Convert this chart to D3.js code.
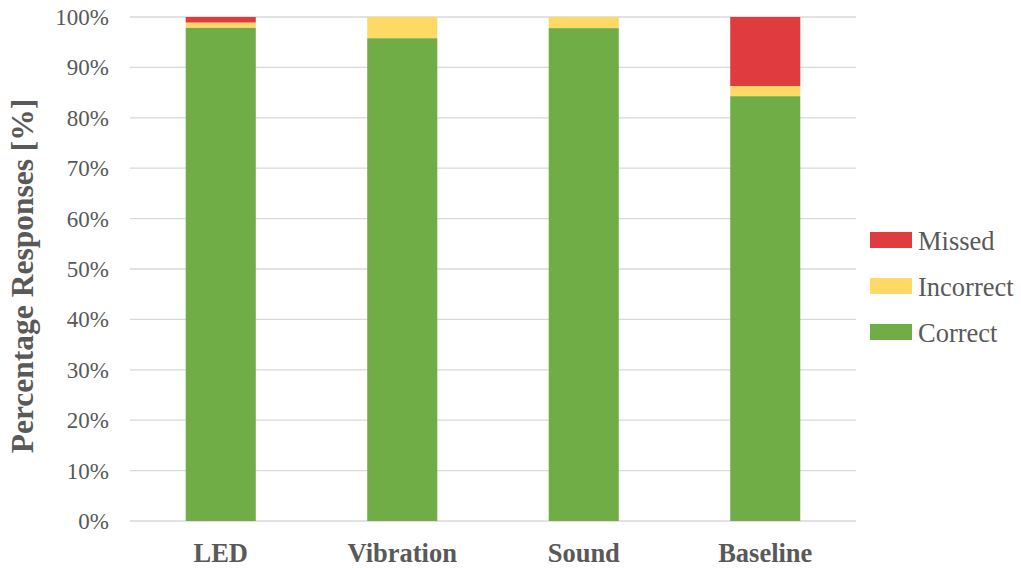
<!DOCTYPE html>
<html>
<head>
<meta charset="utf-8">
<script src="https://cdn.jsdelivr.net/npm/d3@7"></script>
<style>
  html, body { margin: 0; padding: 0; background: #fff; }
  svg { display: block; }
</style>
</head>
<body>
<svg id="chart" width="1021" height="568"></svg>
<script>
// Response outcomes per feedback condition (percent of responses)
const categories = ["LED", "Vibration", "Sound", "Baseline"];
const correct   = [97.9, 95.8, 97.8, 84.3];
const incorrect = [1.0, 4.2, 2.2, 2.0];
const missed    = [1.1, 0.0, 0.0, 13.7];
const seriesNames = ["Correct", "Incorrect", "Missed"];
const seriesColors = ["#70AD47", "#FFD966", "#E03B3F"];
const yTicks = [0, 10, 20, 30, 40, 50, 60, 70, 80, 90, 100];

(function draw() {
  const serif = "'Liberation Serif', 'Times New Roman', serif";
  const textColor = "#595959";

  const rows = categories.map((c, i) => ({
    cat: c, Correct: correct[i], Incorrect: incorrect[i], Missed: missed[i]
  }));
  const stacked = d3.stack().keys(seriesNames)(rows);

  const svg = d3.select("#chart");
  const plotLeft = 130, plotRight = 856, plotTop = 17, plotBottom = 521;

  const x = d3.scaleBand().domain(categories).range([plotLeft, plotRight])
    .paddingInner(0.614).paddingOuter(0.307);
  const y = d3.scaleLinear().domain([0, 100]).range([plotBottom, plotTop]);
  const color = d3.scaleOrdinal().domain(seriesNames).range(seriesColors);

  // Horizontal gridlines
  svg.append("g")
    .selectAll("line")
    .data(yTicks)
    .join("line")
    .attr("x1", plotLeft).attr("x2", plotRight)
    .attr("y1", d => y(d)).attr("y2", d => y(d))
    .attr("stroke", "#d9d9d9").attr("stroke-width", 1.3);

  // Y axis tick labels
  const yAxis = d3.axisLeft(y).tickValues(yTicks).tickFormat(d => d + "%").tickSize(0).tickPadding(0);
  const yg = svg.append("g").attr("transform", "translate(109,0)").call(yAxis);
  yg.select(".domain").remove();
  yg.selectAll("text")
    .style("font-family", serif)
    .style("font-size", "23px")
    .style("fill", textColor)
    .attr("dy", "0.33em");

  // Stacked bars
  svg.append("g")
    .selectAll("g")
    .data(stacked)
    .join("g")
    .attr("fill", d => color(d.key))
    .selectAll("rect")
    .data(d => d)
    .join("rect")
    .attr("x", d => x(d.data.cat))
    .attr("width", x.bandwidth())
    .attr("y", d => y(d[1]))
    .attr("height", d => y(d[0]) - y(d[1]));

  // X axis category labels
  const xAxis = d3.axisBottom(x).tickSize(0).tickPadding(0);
  const xg = svg.append("g").attr("transform", "translate(0,562)").call(xAxis);
  xg.select(".domain").remove();
  xg.selectAll("text")
    .style("font-family", serif)
    .style("font-size", "26.5px")
    .style("font-weight", "bold")
    .style("fill", textColor)
    .attr("y", 0)
    .attr("dy", 0);

  // Y axis title
  svg.append("text")
    .attr("transform", "translate(33,276) rotate(-90)")
    .attr("text-anchor", "middle")
    .style("font-family", serif)
    .style("font-size", "31.5px")
    .style("font-weight", "bold")
    .style("fill", textColor)
    .text("Percentage Responses [%]");

  // Legend (top entry is Missed)
  const legendItems = seriesNames.slice().reverse();
  const lg = svg.append("g")
    .selectAll("g")
    .data(legendItems)
    .join("g")
    .attr("transform", (d, i) => `translate(870,${240 + i * 46})`);
  lg.append("rect")
    .attr("x", 0).attr("y", -8)
    .attr("width", 42).attr("height", 16)
    .attr("fill", d => color(d));
  lg.append("text")
    .attr("x", 48).attr("y", 10)
    .style("font-family", serif)
    .style("font-size", "26.5px")
    .style("fill", textColor)
    .text(d => d);
})();
</script>
</body>
</html>
